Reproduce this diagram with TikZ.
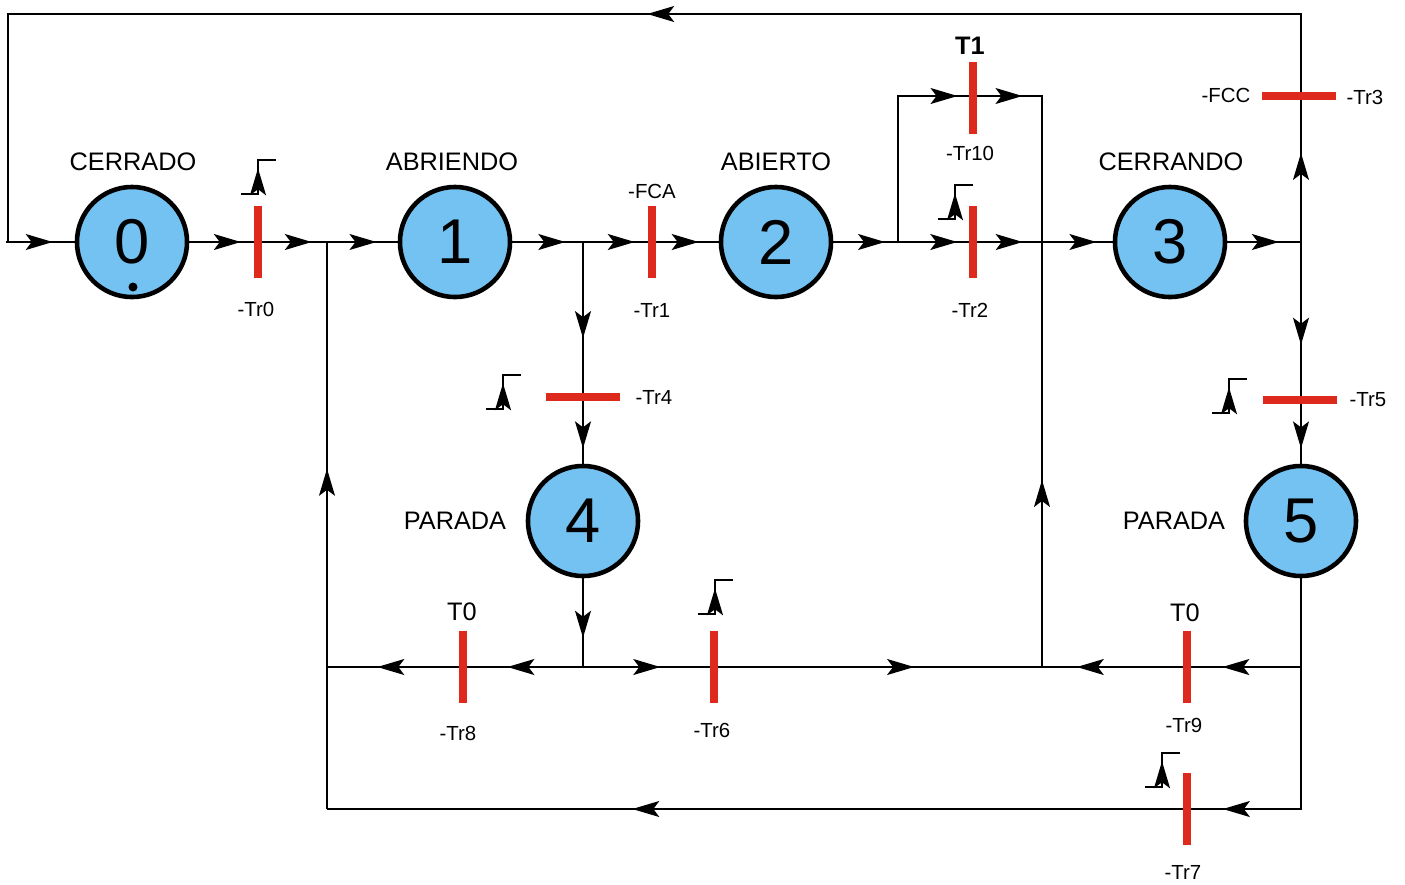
\documentclass[tikz,border=0pt]{standalone}
\usepackage{fontspec}
\setmainfont{Liberation Sans}
\usetikzlibrary{arrows.meta,decorations.markings,backgrounds}
\definecolor{EstadoAzul}{RGB}{116,194,241}
\definecolor{TransRojo}{RGB}{221,42,28}

\tikzset{
  estado/.style={circle,draw=black,line width=1.3pt,fill=EstadoAzul,minimum size=1.1cm,inner sep=0pt,font=\fontsize{18}{18}\selectfont},
  transv/.style={fill=TransRojo,minimum width=0.08cm,minimum height=0.72cm,inner sep=0pt},
  transh/.style={fill=TransRojo,minimum width=0.73cm,minimum height=0.08cm,inner sep=0pt},
  rotulo/.style={font=\fontsize{7.2}{8}\selectfont,inner sep=0pt},
  etiq/.style={font=\fontsize{5.8}{7}\selectfont,inner sep=0pt},
  flujo/.style={postaction={decorate},decoration={markings,mark=at position #1 with {\arrow{Stealth[length=2.7mm,width=1.6mm,inset=0.6mm]}}}},
  flujo/.default=0.75,
  flanco/.pic={\draw[flujo=0.62] (-17,17) -- (0,17) -- (0,-17) -- (18,-17);}
}

\begin{document}
\begin{tikzpicture}[x=0.01cm,y=-0.01cm,line width=0.6pt]
      \useasboundingbox (0,0) rectangle (1405,884);

      % etapas
      \node[estado] (s0) at (132,242) {0};
      \node[estado] (s1) at (455,242) {1};
      \node[estado] (s2) at (776,242) {2};
      \node[estado] (s3) at (1170,242) {3};
      \node[estado] (s4) at (583,521) {4};
      \node[estado] (s5) at (1301,521) {5};
      \fill (133,287) circle[radius=0.045cm];

      % transiciones
      \node[transv] (tr0) at (258,242) {};
      \node[transv] (tr1) at (652,242) {};
      \node[transv] (tr2) at (973,242) {};
      \node[transv] (tr10) at (973,98) {};
      \node[transh] (tr3) at (1299,96) {};
      \node[transh] (tr4) at (583,397) {};
      \node[transh] (tr5) at (1300,400) {};
      \node[transv] (tr8) at (463,667) {};
      \node[transv] (tr6) at (714,667) {};
      \node[transv] (tr9) at (1187,667) {};
      \node[transv] (tr7) at (1187,809) {};

      \coordinate (ini) at (6,242);
      \coordinate (tl) at (8,14);
      \coordinate (tr) at (1301,14);
      \coordinate (j1) at (327,242);
      \coordinate (j2) at (583,242);
      \coordinate (j3) at (898,242);
      \coordinate (j3a) at (898,96);
      \coordinate (j4a) at (1042,96);
      \coordinate (j4) at (1042,242);
      \coordinate (j5) at (1301,242);
      \coordinate (j6) at (583,667);
      \coordinate (j7) at (327,667);
      \coordinate (j8) at (1042,667);
      \coordinate (j9) at (1301,667);
      \coordinate (br) at (1301,809);
      \coordinate (bl) at (327,809);

      \begin{scope}[on background layer]
        \draw[flujo=0.68] (ini) -- (s0);
        \draw[flujo] (s0) -- (tr0.center);
        \draw[flujo=0.78] (tr0.center) -- (j1);
        \draw[flujo=0.7] (j1) -- (s1);
        \draw[flujo] (s1) -- (j2);
        \draw[flujo] (j2) -- (tr1.center);
        \draw[flujo=0.7] (tr1.center) -- (s2);
        \draw[flujo=0.8] (s2) -- (j3);
        \draw[flujo=0.79] (j3) -- (tr2.center);
        \draw[flujo=0.72] (tr2.center) -- (j4);
        \draw[flujo=0.77] (j4) -- (s3);
        \draw[flujo=0.7] (s3) -- (j5);
        \draw[flujo=0.93] (j3) -- (j3a) -- (tr10.center |- j3a);
        \draw[flujo=0.23] (tr10.center |- j4a) -- (j4a) -- (j4);
        \draw[flujo=0.61] (j5) -- (j5 |- tr3.center);
        \draw[flujo=0.459] (j5 |- tr3.center) -- (tr) -- (tl) -- (tl |- ini);
        \draw[flujo=0.65] (j5) -- (j5 |- tr5.center);
        \draw[flujo=0.76] (j5 |- tr5.center) -- (s5);
        \draw[flujo=0.62] (j2) -- (tr4.center);
        \draw[flujo=0.77] (tr4.center) -- (s4);
        \draw[flujo=0.67] (s4) -- (j6);
        \draw[flujo=0.63] (j6) -- (tr8.center);
        \draw[flujo=0.63] (tr8.center) -- (j7);
        \draw[flujo=0.59] (j6) -- (tr6.center);
        \draw[flujo=0.61] (tr6.center) -- (j8);
        \draw[flujo=0.44] (j8) -- (j4);
        \draw (s5) -- (j9);
        \draw[flujo=0.69] (j9) -- (tr9.center);
        \draw[flujo=0.76] (tr9.center) -- (j8);
        \draw[flujo=0.86] (j9) -- (br) -- (tr7.center);
        \draw[flujo=0.645] (tr7.center) -- (bl);
        \draw[flujo=0.6] (bl) -- (j1);
      \end{scope}

      % receptividades por flanco
      \pic at (258,177) {flanco};
      \pic at (503,392) {flanco};
      \pic at (955,202) {flanco};
      \pic at (1229,396) {flanco};
      \pic at (715,597) {flanco};
      \pic at (1162,770) {flanco};

      \node[rotulo] (nCerrado) at (133,162) {CERRADO};
      \node[rotulo] (nAbriendo) at (452,162) {ABRIENDO};
      \node[rotulo] (nAbierto) at (776,162) {ABIERTO};
      \node[rotulo] (nCerrando) at (1171,162) {CERRANDO};
      \node[rotulo] (nParada4) at (455,521) {PARADA};
      \node[rotulo] (nParada5) at (1174,521) {PARADA};
      \node[rotulo] (nT0a) at (462,612) {T0};
      \node[rotulo] (nT0b) at (1185,613) {T0};
      \node[rotulo,font=\fontsize{7.2}{8}\selectfont\bfseries] (nT1) at (970,46) {T1};

      \node[etiq] (eTr0) at (256,309) {-Tr0};
      \node[etiq] (eTr1) at (652,310) {-Tr1};
      \node[etiq] (eFCA) at (652,191) {-FCA};
      \node[etiq] (eTr10) at (970,153) {-Tr10};
      \node[etiq] (eTr2) at (970,310) {-Tr2};
      \node[etiq] (eFCC) at (1226,95) {-FCC};
      \node[etiq] (eTr3) at (1365,97) {-Tr3};
      \node[etiq] (eTr4) at (654,397) {-Tr4};
      \node[etiq] (eTr5) at (1368,400) {-Tr5};
      \node[etiq] (eTr8) at (458,733) {-Tr8};
      \node[etiq] (eTr6) at (712,730) {-Tr6};
      \node[etiq] (eTr9) at (1184,725) {-Tr9};
      \node[etiq] (eTr7) at (1183,872) {-Tr7};
    \end{tikzpicture}
\end{document}
